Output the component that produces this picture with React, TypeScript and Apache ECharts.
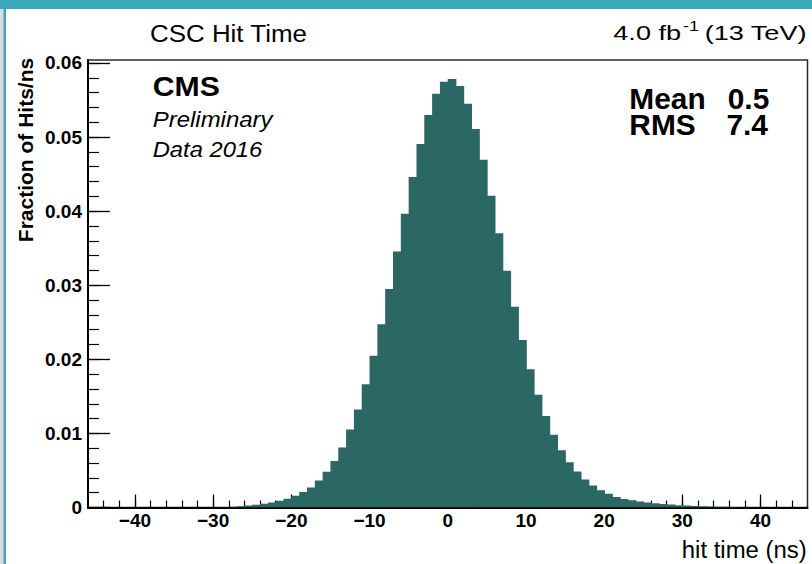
import React, { useEffect, useRef } from "react";
import * as echarts from "echarts";

// Histogram bins (low edge, ns) and fraction of hits per ns in each 1 ns bin
const binLow = [
  -30, -29, -28, -27, -26, -25, -24, -23, -22, -21,
  -20, -19, -18, -17, -16, -15, -14, -13, -12, -11,
  -10, -9, -8, -7, -6, -5, -4, -3, -2, -1,
  0, 1, 2, 3, 4, 5, 6, 7, 8, 9,
  10, 11, 12, 13, 14, 15, 16, 17, 18, 19,
  20, 21, 22, 23, 24, 25, 26, 27, 28, 29,
  30, 31, 32, 33, 34, 35, 36, 37, 38, 39,
];
const fraction = [
  0.00003, 0.00005, 0.0001, 0.00018, 0.00027, 0.00036, 0.00049, 0.00068, 0.0009, 0.00117,
  0.0016, 0.0021, 0.0027, 0.00365, 0.00481, 0.00626, 0.00811, 0.01054, 0.01324, 0.01662,
  0.02049, 0.02473, 0.0295, 0.03454, 0.03964, 0.0446, 0.04905, 0.05297, 0.05585, 0.05747,
  0.05784, 0.05689, 0.0545, 0.05108, 0.04693, 0.04207, 0.03703, 0.03197, 0.02711, 0.02261,
  0.01865, 0.01522, 0.01234, 0.00981, 0.00774, 0.00612, 0.00486, 0.00378, 0.00297, 0.00234,
  0.00184, 0.00143, 0.00116, 0.00099, 0.00081, 0.00068, 0.00058, 0.00047, 0.00039, 0.00032,
  0.00026, 0.00021, 0.00017, 0.00014, 0.00011, 0.00009, 0.00007, 0.00005, 0.00004, 0.00003,
];
const binWidth = 1;

const xMajorTicks = [-40, -30, -20, -10, 0, 10, 20, 30, 40];
const xMinorTicks = [
  -44, -42, -40, -38, -36, -34, -32, -30, -28, -26, -24, -22, -20, -18, -16, -14, -12, -10, -8, -6, -4, -2,
  0, 2, 4, 6, 8, 10, 12, 14, 16, 18, 20, 22, 24, 26, 28, 30, 32, 34, 36, 38, 40, 42, 44,
];
const yMajorTicks = [0, 0.01, 0.02, 0.03, 0.04, 0.05, 0.06];
const yMinorTicks = [
  0.002, 0.004, 0.006, 0.008, 0.01, 0.012, 0.014, 0.016, 0.018, 0.02,
  0.022, 0.024, 0.026, 0.028, 0.03, 0.032, 0.034, 0.036, 0.038, 0.04,
  0.042, 0.044, 0.046, 0.048, 0.05, 0.052, 0.054, 0.056, 0.058, 0.06,
];

const X_MIN = -46;
const X_MAX = 46;
const Y_MAX = 0.0604;

const FONT = '"Liberation Sans", Arial, Helvetica, sans-serif';
const FILL = "#2b6763";
const TEAL = "#3ba9b9";

function txt(
  text: string,
  x: number,
  y: number,
  font: string,
  align: string,
  extra: Record<string, unknown> = {}
) {
  return {
    type: "text",
    x,
    y,
    z: 10,
    ...extra,
    style: { text, font, fill: "#000", align, verticalAlign: "middle" },
  };
}

export default function App() {
  const ref = useRef<HTMLDivElement>(null);

  useEffect(() => {
    if (!ref.current) return;
    const chart = echarts.init(ref.current, null, { renderer: "svg" });

    const grid = { left: 88, top: 60, width: 719.5, height: 447.5 };
    const fmtX = (v: number) => (v < 0 ? "\u2212" + String(-v) : String(v));
    const fmtY = (v: number) => (v === 0 ? "0" : v.toFixed(2));
    const stats = { scaleX: 1.15, scaleY: 1.1 };

    chart.setOption({
      animation: false,
      backgroundColor: "#ffffff",
      grid: {
        ...grid,
        show: true,
        borderColor: "#2a2a2a",
        borderWidth: 1.5,
        backgroundColor: "transparent",
      },
      xAxis: [
        {
          type: "value",
          min: X_MIN,
          max: X_MAX,
          position: "bottom",
          axisLine: { show: true, onZero: false, lineStyle: { color: "#000", width: 2 } },
          axisTick: {
            show: true,
            inside: true,
            length: 13,
            customValues: xMajorTicks,
            lineStyle: { color: "#000", width: 1.3 },
          },
          axisLabel: {
            show: true,
            customValues: xMajorTicks,
            formatter: fmtX,
            margin: 3,
            color: "#000",
            fontFamily: FONT,
            fontWeight: "bold",
            fontSize: 19,
          },
          splitLine: { show: false },
        },
        {
          type: "value",
          min: X_MIN,
          max: X_MAX,
          position: "bottom",
          offset: 0,
          axisLine: { show: false, onZero: false },
          axisTick: {
            show: true,
            inside: true,
            length: 7,
            customValues: xMinorTicks,
            lineStyle: { color: "#000", width: 1.2 },
          },
          axisLabel: { show: false },
          splitLine: { show: false },
        },
      ],
      yAxis: [
        {
          type: "value",
          min: 0,
          max: Y_MAX,
          position: "left",
          axisLine: { show: true, onZero: false, lineStyle: { color: "#000", width: 2 } },
          axisTick: {
            show: true,
            inside: true,
            length: 22,
            customValues: yMajorTicks,
            lineStyle: { color: "#000", width: 1.3 },
          },
          axisLabel: {
            show: true,
            customValues: yMajorTicks,
            formatter: fmtY,
            margin: 6,
            color: "#000",
            fontFamily: FONT,
            fontWeight: "bold",
            fontSize: 19,
          },
          splitLine: { show: false },
        },
        {
          type: "value",
          min: 0,
          max: Y_MAX,
          position: "left",
          offset: 0,
          axisLine: { show: false, onZero: false },
          axisTick: {
            show: true,
            inside: true,
            length: 11,
            customValues: yMinorTicks,
            lineStyle: { color: "#000", width: 1.2 },
          },
          axisLabel: { show: false },
          splitLine: { show: false },
        },
      ],
      series: [
        {
          type: "custom",
          xAxisIndex: 0,
          yAxisIndex: 0,
          clip: true,
          data: binLow.map((x, i) => [x, fraction[i]]),
          renderItem: (_params: any, api: any) => {
            const x0 = api.value(0);
            const v = api.value(1);
            const pTop = api.coord([x0, v]);
            const pBot = api.coord([x0 + binWidth, 0]);
            // slight overlap with the next bin so neighbouring bars join without seams
            return {
              type: "rect",
              shape: {
                x: pTop[0],
                y: pTop[1],
                width: pBot[0] - pTop[0] + 0.8,
                height: pBot[1] - pTop[1],
              },
              style: { fill: FILL },
            };
          },
        },
      ],
      graphic: [
        // slide edge strips around the figure
        { type: "rect", z: 0, shape: { x: 0, y: 0, width: 812, height: 9 }, style: { fill: TEAL } },
        { type: "rect", z: 0, shape: { x: 0, y: 9, width: 4, height: 555 }, style: { fill: "#d9dddd" } },
        { type: "rect", z: 0, shape: { x: 3.5, y: 9, width: 2.5, height: 555 }, style: { fill: TEAL } },

        txt("CSC Hit Time", 150, 33.3, `24px ${FONT}`, "left", { scaleX: 1.08 }),
        txt("4.0 fb", 613.3, 33, `21px ${FONT}`, "left", { scaleX: 1.29 }),
        txt("-1", 683, 26.5, `15px ${FONT}`, "left", { scaleX: 1.2 }),
        txt("(13 TeV)", 806.5, 33, `21px ${FONT}`, "right", { scaleX: 1.29 }),

        txt("CMS", 152.7, 87, `bold 27px ${FONT}`, "left", { scaleX: 1.12 }),
        txt("Preliminary", 152.7, 119.7, `italic 22px ${FONT}`, "left", { scaleX: 1.09 }),
        txt("Data 2016", 152.7, 149, `italic 22px ${FONT}`, "left", { scaleX: 1.08 }),

        txt("Mean", 629.3, 98.8, `bold 26px ${FONT}`, "left", stats),
        txt("0.5", 769.3, 98.8, `bold 26px ${FONT}`, "right", stats),
        txt("RMS", 629.3, 125.4, `bold 26px ${FONT}`, "left", stats),
        txt("7.4", 768, 125.4, `bold 26px ${FONT}`, "right", stats),

        txt("hit time (ns)", 806.7, 550, `23px ${FONT}`, "right", { scaleX: 1.04 }),
        txt("Fraction of Hits/ns", 25, 150, `bold 21px ${FONT}`, "center", {
          rotation: Math.PI / 2,
        }),
      ],
    });

    return () => chart.dispose();
  }, []);

  return (
    <div
      ref={ref}
      style={{ position: "fixed", left: 0, top: 0, width: 812, height: 564 }}
    />
  );
}
